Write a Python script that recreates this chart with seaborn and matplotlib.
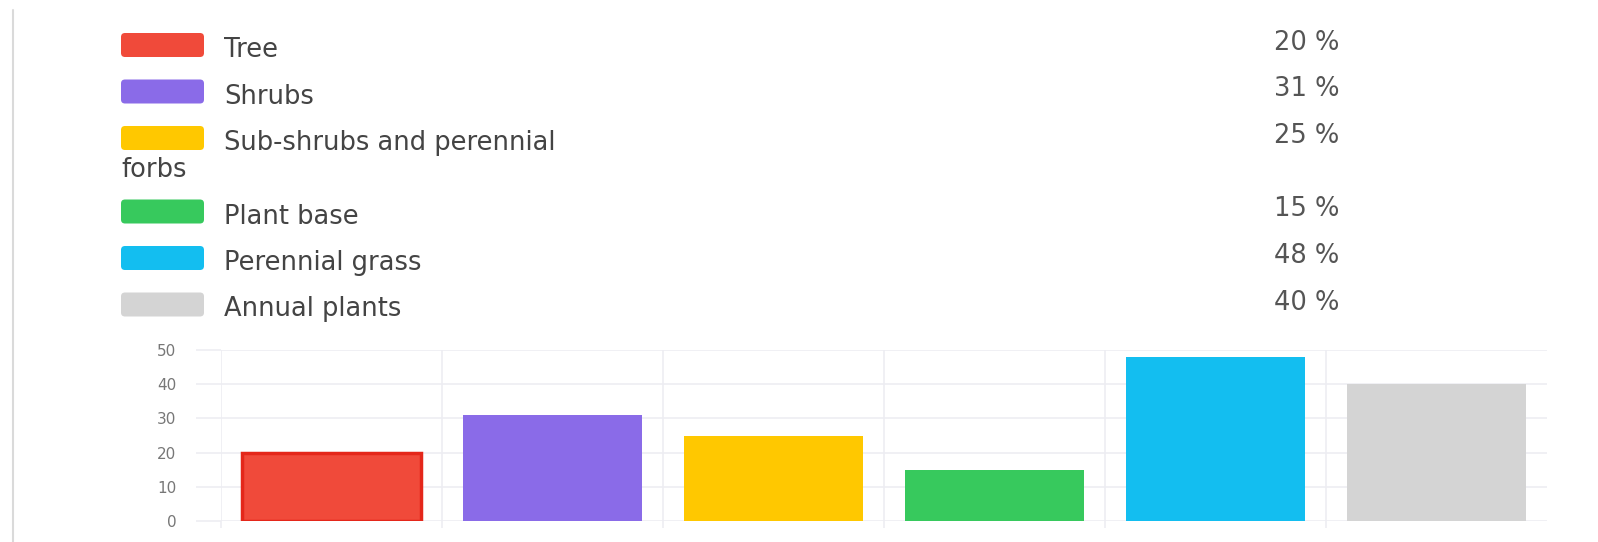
import matplotlib
matplotlib.use("Agg")
import matplotlib.pyplot as plt
from matplotlib.patches import FancyBboxPatch
from matplotlib.lines import Line2D
import seaborn as sns
import pandas as pd

# ---- data ----
categories = ["Tree", "Shrubs", "Sub-shrubs and perennial forbs",
              "Plant base", "Perennial grass", "Annual plants"]
legend_lines = [["Tree"], ["Shrubs"], ["Sub-shrubs and perennial", "forbs"],
                ["Plant base"], ["Perennial grass"], ["Annual plants"]]
values = [20, 31, 25, 15, 48, 40]
colors = ["#F04A3A", "#8A6BE8", "#FFC800", "#37C95D", "#13BEF0", "#D4D4D4"]
y_ticks = [0, 10, 20, 30, 40, 50]

sns.set_theme(style="white")
plt.rcParams["font.family"] = ["DejaVu Sans"]

W, H = 1598, 542
fig = plt.figure(figsize=(W / 100, H / 100), dpi=100)
fig.patch.set_facecolor("white")

# ---- bar chart ----
left_px, right_px, top_px, bottom_px = 221, 1547, 350, 521
ax = fig.add_axes([left_px / W, (H - bottom_px) / H,
                   (right_px - left_px) / W, (bottom_px - top_px) / H])
df = pd.DataFrame({"category": categories, "value": values})
sns.barplot(data=df, x="category", y="value", hue="category",
            palette=colors, legend=False, width=0.81, ax=ax,
            saturation=1, zorder=3, linewidth=0)
# darker rim on the first (red) bar as in the reference
ax.patches[0].set_edgecolor("#E4271A")
ax.patches[0].set_linewidth(2.5)
ax.set_xlim(-0.5, 5.5)
ax.set_ylim(0, 50)
ax.set_xlabel("")
ax.set_ylabel("")
for s in ax.spines.values():
    s.set_visible(False)
grid_c = "#EDEDF2"
ax.set_xticks([i - 0.5 for i in range(len(categories))])
ax.set_xticklabels([])
ax.set_yticks(y_ticks)
ax.set_yticklabels([str(t) for t in y_ticks])
ax.grid(True, axis="both", color=grid_c, linewidth=1.2, zorder=0)
ax.tick_params(axis="x", length=5, color=grid_c, width=1.2, bottom=True)
ax.tick_params(axis="y", length=18, color=grid_c, width=1.2, left=True,
               pad=14, labelsize=11, labelcolor="#777777")

# ---- legend overlay ----
lax = fig.add_axes([0, 0, 1, 1], zorder=5)
lax.set_xlim(0, W)
lax.set_ylim(H, 0)
lax.axis("off")

fig.add_artist(Line2D([13 / W, 13 / W], [0, 1 - 10 / H],
                      color="#DADADA", linewidth=1.5))

fs = 18.5
y = 33.0
row_h = 46.5
extra_line = 27.0
sw_w, sw_h = 83, 24
for lines, col, v in zip(legend_lines, colors, values):
    lax.add_patch(FancyBboxPatch((121, y), sw_w, sw_h,
                                 boxstyle="round,pad=0,rounding_size=4",
                                 facecolor=col, edgecolor="none"))
    base = y + sw_h
    lax.text(224, base, lines[0], fontsize=fs, color="#444444",
             ha="left", va="baseline")
    for k, extra in enumerate(lines[1:], start=1):
        lax.text(121, base + extra_line * k, extra, fontsize=fs,
                 color="#444444", ha="left", va="baseline")
    lax.text(1339, base - 7, f"{v} %", fontsize=fs, color="#555555",
             ha="right", va="baseline")
    y += row_h + extra_line * (len(lines) - 1)

fig.savefig("out.png", dpi=100, facecolor="white")
